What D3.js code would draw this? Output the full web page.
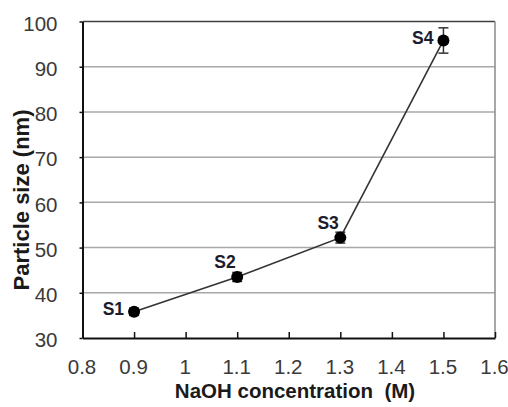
<!DOCTYPE html>
<html>
<head>
<meta charset="utf-8">
<script src="https://cdn.jsdelivr.net/npm/d3@7"></script>
<style>
  html, body { margin: 0; padding: 0; background: #fff; }
  svg { display: block; }
  text { font-family: "Liberation Sans", Arial, Helvetica, sans-serif; }
</style>
</head>
<body>
<svg id="chart" width="508" height="407"></svg>
<script>
// Particle size vs NaOH concentration, samples S1–S4
const concentration = [0.9, 1.1, 1.3, 1.5];
const particleSize = [35.8, 43.5, 52.2, 95.8];
const sizeError = [0.8, 1.0, 1.2, 2.8];
const sampleNames = ["S1", "S2", "S3", "S4"];
const labelSide = ["left", "above", "above", "left"];

const xTicks = [0.8, 0.9, 1.0, 1.1, 1.2, 1.3, 1.4, 1.5, 1.6];
const xTickLabels = ["0.8", "0.9", "1", "1.1", "1.2", "1.3", "1.4", "1.5", "1.6"];
const yTicks = [30, 40, 50, 60, 70, 80, 90, 100];

const xTitle = "NaOH concentration  (M)";
const yTitle = "Particle size (nm)";

const svg = d3.select("#chart");

const x = d3.scaleLinear().domain([0.8, 1.6]).range([82.5, 495]);
const y = d3.scaleLinear().domain([30, 100]).range([338, 21.5]);

// horizontal gridlines
svg.append("g")
  .selectAll("line")
  .data(yTicks.filter(v => v > 30 && v < 100))
  .join("line")
  .attr("x1", x(0.8)).attr("x2", x(1.6))
  .attr("y1", d => y(d)).attr("y2", d => y(d))
  .attr("stroke", "#a8a8a8")
  .attr("stroke-width", 1.5);

// plot frame: top and right edges
svg.append("line")
  .attr("x1", x(0.8)).attr("x2", x(1.6))
  .attr("y1", y(100)).attr("y2", y(100))
  .attr("stroke", "#404040").attr("stroke-width", 1.5);
svg.append("line")
  .attr("x1", x(1.6)).attr("x2", x(1.6))
  .attr("y1", y(100)).attr("y2", y(30))
  .attr("stroke", "#8a8a8a").attr("stroke-width", 1.5);

// y axis
const yAxis = svg.append("g")
  .attr("transform", `translate(${x(0.8)},0)`)
  .call(d3.axisLeft(y).tickValues(yTicks).tickFormat(d3.format("d"))
    .tickSizeInner(3).tickSizeOuter(0).tickPadding(22));
yAxis.select(".domain").attr("stroke", "#111").attr("stroke-width", 2);
yAxis.selectAll(".tick line").attr("stroke", "#111").attr("stroke-width", 1.5);
yAxis.selectAll(".tick text")
  .attr("font-size", "20.5px")
  .attr("fill", "#3a3a3a")
  .attr("dy", "0.43em");

// x axis, ticks pointing into the plot
const xAxis = svg.append("g")
  .attr("transform", `translate(0,${y(30)})`)
  .call(d3.axisBottom(x).tickValues(xTicks)
    .tickFormat((d, i) => xTickLabels[i])
    .tickSizeInner(-6).tickSizeOuter(0).tickPadding(21));
xAxis.select(".domain").attr("stroke", "#111").attr("stroke-width", 2);
xAxis.selectAll(".tick line").attr("stroke", "#111").attr("stroke-width", 1.5);
xAxis.selectAll(".tick text")
  .attr("font-size", "20.5px")
  .attr("fill", "#3a3a3a")
  .attr("dx", "-1");

// axis titles
svg.append("text")
  .attr("x", 295).attr("y", 398)
  .attr("text-anchor", "middle")
  .attr("font-size", "20.5px")
  .attr("font-weight", "bold")
  .attr("fill", "#1a1a1a")
  .style("white-space", "pre")
  .text(xTitle);

svg.append("text")
  .attr("transform", "translate(29,200) rotate(-90)")
  .attr("text-anchor", "middle")
  .attr("font-size", "22px")
  .attr("font-weight", "bold")
  .attr("fill", "#1a1a1a")
  .text(yTitle);

const points = concentration.map((c, i) => ({
  c, v: particleSize[i], e: sizeError[i], name: sampleNames[i], side: labelSide[i]
}));

// connecting line
svg.append("path")
  .datum(points)
  .attr("fill", "none")
  .attr("stroke", "#333")
  .attr("stroke-width", 1.6)
  .attr("d", d3.line().x(d => x(d.c)).y(d => y(d.v)));

// error bars
const eb = svg.append("g").attr("stroke", "#333").attr("stroke-width", 1.5);
eb.selectAll("line.v").data(points).join("line").attr("class", "v")
  .attr("x1", d => x(d.c)).attr("x2", d => x(d.c))
  .attr("y1", d => y(d.v - d.e)).attr("y2", d => y(d.v + d.e));
eb.selectAll("line.top").data(points).join("line").attr("class", "top")
  .attr("x1", d => x(d.c) - 5).attr("x2", d => x(d.c) + 5)
  .attr("y1", d => y(d.v + d.e)).attr("y2", d => y(d.v + d.e));
eb.selectAll("line.bot").data(points).join("line").attr("class", "bot")
  .attr("x1", d => x(d.c) - 5).attr("x2", d => x(d.c) + 5)
  .attr("y1", d => y(d.v - d.e)).attr("y2", d => y(d.v - d.e));

// markers
svg.append("g")
  .selectAll("circle")
  .data(points)
  .join("circle")
  .attr("cx", d => x(d.c))
  .attr("cy", d => y(d.v))
  .attr("r", 6)
  .attr("fill", "#000");

// sample labels
svg.append("g")
  .selectAll("text")
  .data(points)
  .join("text")
  .attr("x", d => x(d.c) + (d.side === "left" ? -10 : -1.5))
  .attr("y", d => y(d.v) + (d.side === "left" ? 3.5 : -9))
  .attr("text-anchor", "end")
  .attr("font-size", "17.5px")
  .attr("font-weight", "bold")
  .attr("fill", "#1c1c2c")
  .text(d => d.name);
</script>
</body>
</html>
